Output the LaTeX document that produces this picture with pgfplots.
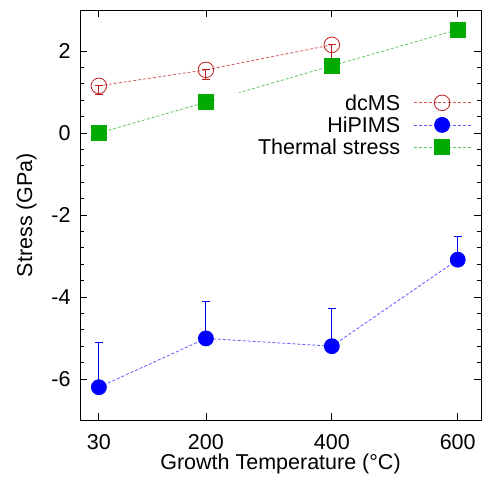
\documentclass[border=0pt]{standalone}
\usepackage{fontspec}
\setmainfont{Liberation Sans}
\usepackage{pgfplots}
\pgfplotsset{compat=1.18}
\definecolor{dcred}{RGB}{190,30,30}
\definecolor{dclin}{RGB}{215,90,90}
\definecolor{hiblue}{RGB}{0,0,255}
\definecolor{hilin}{RGB}{90,90,255}
\definecolor{thgreen}{RGB}{0,170,0}
\definecolor{thlin}{RGB}{90,200,90}
\begin{document}
\begin{tikzpicture}
\begin{axis}[
  scale only axis,
  width=401bp, height=410bp,
  xmin=0, xmax=637, ymin=-7, ymax=3,
  xtick={30,200,400,600},
  ytick={-6,-4,-2,0,2},
  minor y tick num=4,
  tick align=inside,
  major tick length=7bp,
  minor tick length=4bp,
  axis line style={line width=0.8bp},
  every tick/.style={black, line width=0.8bp},
  font=\fontsize{21.5bp}{25bp}\selectfont,
  /pgf/number format/assume math mode=true,
  xticklabel style={yshift=-11bp},
  yticklabel style={xshift=-6bp},
  xlabel={Growth Temperature (°C)},
  ylabel={Stress (GPa)},
  xlabel style={yshift=3bp},
  ylabel style={yshift=8bp},
  legend style={at={(0.975,0.795)}, anchor=north east, draw=none, fill=white,
    font=\fontsize{21.5bp}{25bp}\selectfont, row sep=4.5bp, column sep=12bp,
    legend cell align=right, inner sep=0bp, outer sep=0bp,
    nodes={inner sep=1bp, text depth=0pt}},
  legend plot pos=right,
  legend image code/.code={
    \draw[mark repeat=2,mark phase=2] plot coordinates {(0bp,0bp) (28.5bp,0bp) (57bp,0bp)};
  },
]
\addplot[dclin, densely dashed, line width=0.8bp, mark=o, mark size=7.8bp,
  mark options={solid, dcred, line width=0.8bp},
  error bars/.cd, y dir=both, y explicit,
  error bar style={dcred, solid, line width=1bp},
  error mark options={rotate=90, mark size=4bp, dcred, line width=1bp}]
  coordinates {
  (30,1.15) += (0,0.02) -= (0,0.22)
  (200,1.54) += (0,0.02) -= (0,0.23)
  (400,2.15) += (0,0.02) -= (0,0.35)
  };
\addlegendentry{dcMS}
\addplot[hilin, densely dashed, line width=0.8bp, mark=*, mark size=7.5bp,
  mark options={solid, hiblue},
  error bars/.cd, y dir=plus, y explicit,
  error bar style={hiblue, solid, line width=1bp},
  error mark options={rotate=90, mark size=4bp, hiblue, line width=1bp}]
  coordinates {
  (30,-6.20) += (0,1.09)
  (200,-5.01) += (0,0.90)
  (400,-5.20) += (0,0.91)
  (600,-3.09) += (0,0.56)
  };
\addlegendentry{HiPIMS}
\addplot[thlin, densely dashed, line width=0.8bp, mark=square*, mark size=7.5bp,
  mark options={solid, thgreen}]
  coordinates {
  (30,0.0)
  (200,0.75)
  (400,1.64)
  (600,2.52)
  };
\addlegendentry{Thermal stress}
\fill[white] (axis cs:215,0.76) rectangle (axis cs:252,1.02);
\end{axis}
\pgfresetboundingbox
\path ([shift={(-80bp,-63bp)}]current axis.south west) rectangle ([shift={(1bp,10bp)}]current axis.north east);
\end{tikzpicture}
\end{document}
